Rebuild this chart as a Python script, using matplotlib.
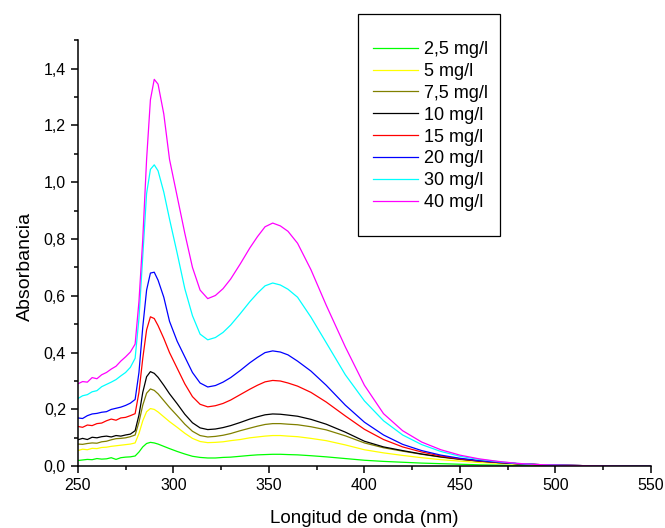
import matplotlib
matplotlib.use('Agg')
import matplotlib.pyplot as plt
from matplotlib.patches import Rectangle
from matplotlib.ticker import MultipleLocator, FuncFormatter

plt.rcParams['font.family'] = ['Liberation Sans', 'DejaVu Sans']

# wavelength grid (nm)
wl = [250, 252.5, 255, 257.5, 260, 262.5, 265, 267.5, 270, 272.5, 275, 277.5,
      280, 282, 284, 286, 288, 290, 292, 295, 298, 302, 306, 310, 314, 318,
      322, 326, 330, 335, 340, 344, 348, 352, 356, 360, 365, 372, 380, 390,
      400, 410, 420, 430, 440, 450, 460, 470, 480, 490, 500, 515, 530, 550]

a_2_5 = [0.020, 0.022, 0.024, 0.023, 0.027, 0.025, 0.026, 0.030, 0.024, 0.030, 0.032, 0.033,
         0.036, 0.050, 0.068, 0.080, 0.084, 0.082, 0.078, 0.070, 0.062, 0.052, 0.043, 0.035, 0.031, 0.029,
         0.029, 0.031, 0.032, 0.035, 0.038, 0.040, 0.041, 0.042, 0.042, 0.041, 0.040, 0.037, 0.033, 0.027,
         0.021, 0.017, 0.014, 0.011, 0.009, 0.007, 0.005, 0.004, 0.003, 0.002, 0.002, 0.001, 0.001, 0.0]
a_5 = [0.055, 0.060, 0.058, 0.063, 0.062, 0.066, 0.067, 0.070, 0.072, 0.074, 0.076, 0.078,
       0.082, 0.115, 0.160, 0.192, 0.203, 0.200, 0.191, 0.174, 0.157, 0.137, 0.116, 0.098, 0.087, 0.083,
       0.084, 0.086, 0.090, 0.094, 0.100, 0.103, 0.106, 0.108, 0.108, 0.106, 0.104, 0.098, 0.090, 0.075,
       0.058, 0.047, 0.038, 0.030, 0.023, 0.018, 0.013, 0.010, 0.007, 0.005, 0.003, 0.002, 0.001, 0.0]
a_7_5 = [0.078, 0.077, 0.080, 0.082, 0.081, 0.086, 0.088, 0.093, 0.097, 0.098, 0.100, 0.104,
         0.110, 0.155, 0.215, 0.257, 0.272, 0.267, 0.255, 0.231, 0.207, 0.178, 0.148, 0.123, 0.108, 0.103,
         0.105, 0.109, 0.115, 0.125, 0.134, 0.141, 0.147, 0.150, 0.150, 0.148, 0.146, 0.139, 0.128, 0.107,
         0.082, 0.065, 0.053, 0.042, 0.032, 0.024, 0.018, 0.013, 0.009, 0.006, 0.004, 0.002, 0.001, 0.0]
a_10 = [0.093, 0.098, 0.094, 0.102, 0.100, 0.104, 0.106, 0.103, 0.108, 0.106, 0.110, 0.113,
        0.125, 0.180, 0.260, 0.315, 0.333, 0.327, 0.313, 0.285, 0.255, 0.220, 0.183, 0.153, 0.135, 0.129,
        0.131, 0.136, 0.143, 0.154, 0.166, 0.174, 0.181, 0.184, 0.183, 0.180, 0.176, 0.165, 0.148, 0.120,
        0.088, 0.068, 0.055, 0.043, 0.033, 0.025, 0.018, 0.013, 0.009, 0.006, 0.004, 0.002, 0.001, 0.0]
a_15 = [0.140, 0.137, 0.145, 0.143, 0.150, 0.152, 0.160, 0.166, 0.162, 0.170, 0.172, 0.178,
        0.185, 0.260, 0.380, 0.480, 0.526, 0.520, 0.495, 0.450, 0.400, 0.345, 0.290, 0.245, 0.218, 0.209,
        0.213, 0.221, 0.233, 0.252, 0.271, 0.285, 0.297, 0.302, 0.300, 0.293, 0.282, 0.260, 0.226, 0.177,
        0.130, 0.094, 0.068, 0.050, 0.036, 0.026, 0.019, 0.013, 0.009, 0.006, 0.004, 0.002, 0.001, 0.0]
a_20 = [0.170, 0.168, 0.178, 0.184, 0.186, 0.190, 0.192, 0.200, 0.204, 0.208, 0.214, 0.222,
        0.235, 0.330, 0.490, 0.620, 0.680, 0.683, 0.655, 0.595, 0.510, 0.440, 0.385, 0.330, 0.293, 0.279,
        0.284, 0.296, 0.312, 0.337, 0.364, 0.383, 0.400, 0.406, 0.402, 0.392, 0.370, 0.335, 0.285, 0.215,
        0.155, 0.110, 0.077, 0.055, 0.039, 0.028, 0.020, 0.014, 0.009, 0.006, 0.004, 0.002, 0.001, 0.0]
a_30 = [0.238, 0.248, 0.252, 0.262, 0.266, 0.280, 0.288, 0.296, 0.305, 0.318, 0.330, 0.348,
        0.380, 0.520, 0.740, 0.960, 1.045, 1.061, 1.040, 0.965, 0.870, 0.750, 0.625, 0.530, 0.465, 0.445,
        0.453, 0.471, 0.497, 0.537, 0.579, 0.609, 0.635, 0.645, 0.638, 0.623, 0.595, 0.525, 0.435, 0.322,
        0.230, 0.160, 0.110, 0.076, 0.052, 0.035, 0.024, 0.016, 0.010, 0.006, 0.004, 0.002, 0.001, 0.0]
a_40 = [0.290, 0.298, 0.296, 0.312, 0.308, 0.322, 0.330, 0.342, 0.352, 0.370, 0.385, 0.402,
        0.430, 0.580, 0.800, 1.080, 1.290, 1.362, 1.345, 1.240, 1.080, 0.950, 0.820, 0.700, 0.620, 0.590,
        0.601, 0.625, 0.659, 0.712, 0.768, 0.808, 0.843, 0.856, 0.846, 0.827, 0.785, 0.692, 0.567, 0.420,
        0.285, 0.185, 0.125, 0.085, 0.058, 0.039, 0.026, 0.017, 0.010, 0.006, 0.004, 0.002, 0.001, 0.0]

labels = ['2,5 mg/l', '5 mg/l', '7,5 mg/l', '10 mg/l', '15 mg/l', '20 mg/l', '30 mg/l', '40 mg/l']
colors = ['#00ff00', '#ffff00', '#808000', '#000000', '#ff0000', '#0000ff', '#00ffff', '#ff00ff']
series = [a_2_5, a_5, a_7_5, a_10, a_15, a_20, a_30, a_40]

fig = plt.figure(figsize=(6.65, 5.28), dpi=100)
ax = fig.add_axes([0.117, 0.117, 0.862, 0.807])

for y, c, lab in zip(series, colors, labels):
    ax.plot(wl, y, color=c, lw=0.9, label=lab)

ax.set_xlim(250, 550)
ax.set_ylim(0, 1.5)
ax.xaxis.set_major_locator(MultipleLocator(50))
ax.xaxis.set_minor_locator(MultipleLocator(25))
ax.yaxis.set_major_locator(MultipleLocator(0.2))
ax.yaxis.set_minor_locator(MultipleLocator(0.1))
ax.yaxis.set_major_formatter(FuncFormatter(lambda v, p: f'{v:.1f}'.replace('.', ',')))

for s in ['top', 'right']:
    ax.spines[s].set_visible(False)
for s in ['left', 'bottom']:
    ax.spines[s].set_linewidth(1.1)
ax.tick_params(which='major', direction='out', length=5, width=1.1, labelsize=11.5)
ax.tick_params(which='minor', direction='out', length=3, width=1.1)

ax.set_xlabel('Longitud de onda (nm)', fontsize=13.5, labelpad=12)
ax.set_ylabel('Absorbancia', fontsize=14, labelpad=7)
ax.yaxis.label.set_y(0.469)

# legend: frameless entries inside a hand-placed box
leg = ax.legend(loc='upper left', bbox_to_anchor=(373 / 665, 1 - 41 / 528),
                bbox_transform=fig.transFigure, fontsize=13, frameon=False,
                borderpad=0, labelspacing=0.27, handlelength=2.5,
                handletextpad=0.33, borderaxespad=0)
fig.add_artist(Rectangle((358 / 665, 1 - 236 / 528), 142 / 665, 222 / 528,
                         transform=fig.transFigure, fill=False,
                         edgecolor='black', linewidth=0.9))

fig.savefig('out.png', dpi=100)
